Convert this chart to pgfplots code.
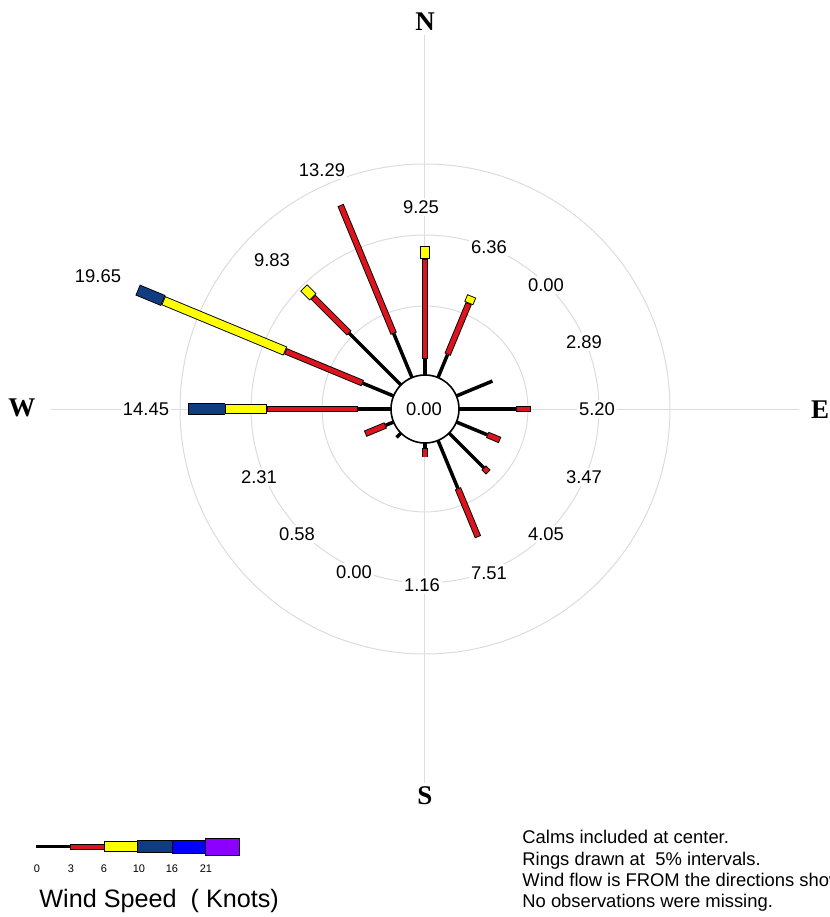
\documentclass[border=0pt]{standalone}
\usepackage{pgfplots}
\pgfplotsset{compat=1.18}
\usepgfplotslibrary{polar}
\usepackage{fontspec}
\setmainfont{Liberation Sans}
\newfontfamily\serifb{Liberation Serif}
\definecolor{wred}{RGB}{220,20,30}
\definecolor{wyel}{RGB}{255,255,0}
\definecolor{wnavy}{RGB}{18,60,130}
\definecolor{wblue}{RGB}{0,0,255}
\definecolor{wpurp}{RGB}{140,0,255}
\definecolor{ringgray}{RGB}{220,220,220}
\pgfplotsset{
  spoke/.style={black, line width=1.75pt, line cap=butt},
  ored/.style={black, line width=3.3pt, line cap=butt},
  fred/.style={wred, line width=2.4pt, line cap=butt, shorten <=0.45pt, shorten >=0.45pt},
  oyel/.style={black, line width=4.8pt, line cap=butt},
  fyel/.style={wyel, line width=3.9pt, line cap=butt, shorten <=0.45pt, shorten >=0.45pt},
  onav/.style={black, line width=5.8pt, line cap=butt},
  fnav/.style={wnavy, line width=4.9pt, line cap=butt, shorten <=0.45pt, shorten >=0.45pt},
}
% angle (math, deg), start %, end %, class
\newcommand{\seg}[4]{%
  \addplot[o#4] coordinates {(#1,#2) (#1,#3)};
  \addplot[f#4] coordinates {(#1,#2) (#1,#3)};}
\tikzset{lab/.style={fill=white, inner sep=1.2pt, font=\fontsize{9.2}{11}\selectfont},
  card/.style={inner sep=0pt, font=\serifb\bfseries\fontsize{13.5}{15}\selectfont}}
\begin{document}
\begin{tikzpicture}[x=0.5pt,y=0.5pt]
\useasboundingbox (0,0) rectangle (830,917);
\clip (0,0) rectangle (830,917);
\begin{polaraxis}[
  at={(212.5pt,254pt)}, anchor=origin,
  scale only axis, width=373.5pt, height=373.5pt,
  xmin=0, xmax=360, ymin=0, ymax=26.3,
  y filter/.expression={y+2.25},
  xtick={0,90,180,270}, ytick={7.25,12.25,17.25},
  xticklabels={}, yticklabels={},
  grid=major, major grid style={ringgray, line width=0.5pt},
  axis line style={draw=none},
  major tick length=0pt,
  clip=false,
]
% black (0-3 knots) portions
\addplot[spoke] coordinates {(90,0) (90,1.3)};
\addplot[spoke] coordinates {(67.5,0) (67.5,1.9)};
\addplot[spoke] coordinates {(22.5,0) (22.5,2.89)};
\addplot[spoke] coordinates {(0,0) (0,4.15)};
\addplot[spoke] coordinates {(-22.5,0) (-22.5,2.5)};
\addplot[spoke] coordinates {(-45,0) (-45,3.6)};
\addplot[spoke] coordinates {(-67.5,0) (-67.5,3.8)};
\addplot[spoke] coordinates {(-90,0) (-90,0.5)};
\addplot[spoke] coordinates {(-135,0) (-135,0.58)};
\addplot[spoke] coordinates {(-157.5,0) (-157.5,0.75)};
\addplot[spoke] coordinates {(180,0) (180,2.5)};
\addplot[spoke] coordinates {(157.5,0) (157.5,2.5)};
\addplot[spoke] coordinates {(135,0) (135,5.3)};
\addplot[spoke] coordinates {(112.5,0) (112.5,3.5)};
% N
\seg{90}{1.3}{8.3}{red}
\seg{90}{8.3}{9.25}{yel}
% NNE
\seg{67.5}{1.9}{5.8}{red}
\seg{67.5}{5.8}{6.36}{yel}
% E
\seg{0}{4.15}{5.20}{red}
% ESE
\seg{-22.5}{2.5}{3.47}{red}
% SE
\seg{-45}{3.6}{4.05}{red}
% SSE
\seg{-67.5}{3.8}{7.51}{red}
% S
\seg{-90}{0.5}{1.16}{red}
% WSW
\seg{-157.5}{0.75}{2.31}{red}
% W
\seg{180}{2.5}{8.9}{red}
\seg{180}{8.9}{11.8}{yel}
\seg{180}{11.8}{14.45}{nav}
% WNW
\seg{157.5}{2.5}{8.4}{red}
\seg{157.5}{8.4}{17.7}{yel}
\seg{157.5}{17.7}{19.65}{nav}
% NW
\seg{135}{5.3}{8.9}{red}
\seg{135}{8.9}{9.83}{yel}
% NNW
\seg{112.5}{3.5}{13.29}{red}
\end{polaraxis}
% calm circle
\draw[black, line width=0.8pt, fill=white] (425,508) circle[radius=34];
\node[lab] at (424,508) {0.00};
% direction totals
\node[lab] at (421,710) {9.25};
\node[lab] at (489,670) {6.36};
\node[lab] at (546,632) {0.00};
\node[lab] at (584,575) {2.89};
\node[lab] at (597,508) {5.20};
\node[lab] at (584,440) {3.47};
\node[lab] at (546,383) {4.05};
\node[lab] at (489,344) {7.51};
\node[lab] at (422,332) {1.16};
\node[lab] at (354,345) {0.00};
\node[lab] at (297,383) {0.58};
\node[lab] at (259,440) {2.31};
\node[lab] at (146,508) {14.45};
\node[lab] at (98,641) {19.65};
\node[lab] at (272,657) {9.83};
\node[lab] at (322,747) {13.29};
% cardinal points
\node[card, fill=white, inner sep=2pt] at (425,895) {N};
\node[card, fill=white, inner sep=2pt] at (425,121) {S};
\node[card, fill=white, inner sep=2pt] at (22,509) {W};
\node[card, fill=white, inner sep=2pt] at (820,507) {E};
% speed legend
\draw[black, line width=1.5pt] (36,70) -- (70,70);
\filldraw[fill=wred, draw=black, line width=0.5pt] (70,67.5) rectangle (104,72.5);
\filldraw[fill=wyel, draw=black, line width=0.5pt] (104,65) rectangle (137,75);
\filldraw[fill=wnavy, draw=black, line width=0.5pt] (137,64) rectangle (172,76);
\filldraw[fill=wblue, draw=black, line width=0.5pt] (172,63.5) rectangle (205,76.5);
\filldraw[fill=wpurp, draw=black, line width=0.5pt] (205,61.5) rectangle (239,78.5);
\begin{scope}[every node/.style={font=\fontsize{5.5}{6}\selectfont, inner sep=0pt}]
\node at (37,48) {0};
\node at (71,48) {3};
\node at (104,48) {6};
\node at (139,48) {10};
\node at (172,48) {16};
\node at (206,48) {21};
\end{scope}
\node[anchor=base west, inner sep=0pt, font=\fontsize{12.6}{14}\selectfont] at (39,10) {Wind Speed\ \ (\ Knots)};
% notes
\begin{scope}[every node/.style={anchor=base west, inner sep=0pt, font=\fontsize{9.2}{11}\selectfont}]
\node at (522,73) {Calms included at center.};
\node at (522,52) {Rings drawn at\ \ 5\% intervals.};
\node at (522,31) {Wind flow is FROM the directions shown.};
\node at (522,10) {No observations were missing.};
\end{scope}
\end{tikzpicture}
\end{document}
